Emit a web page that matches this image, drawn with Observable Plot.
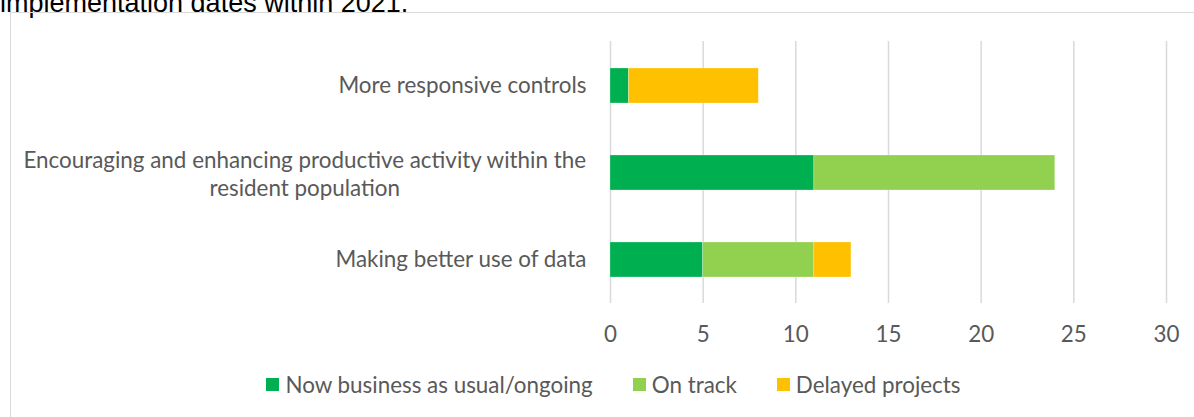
<!DOCTYPE html>
<html>
<head>
<meta charset="utf-8">
<script src="https://cdn.jsdelivr.net/npm/d3@7"></script>
<script src="https://cdn.jsdelivr.net/npm/@observablehq/plot@0.6"></script>
<style>
  html, body { margin: 0; padding: 0; background: #fff; }
  #page { position: relative; width: 1194px; height: 417px; overflow: hidden; background: #fff; }
  #title { position: absolute; left: 0; top: -10px; font-family: "Liberation Sans", Arial, sans-serif; font-size: 27px; line-height: 27px; color: #000; white-space: nowrap; }
  #frame { position: absolute; left: 10px; top: 12px; width: 1220px; height: 440px; border: 1.5px solid #d9d9d9; box-sizing: border-box; }
  #chart { position: absolute; left: 0; top: 0; }
  #legend { position: absolute; left: 0; top: 371px; width: 1227px; display: flex; justify-content: center; font-family: Lato, sans-serif; font-size: 22.4px; color: #595959; }
  .item { display: flex; align-items: center; margin: 0 20px; white-space: nowrap; }
  .sw { width: 13px; height: 13px; margin-right: 6px; }
</style>
</head>
<body>
<div id="page">
  <div id="title">implementation dates within 2021.</div>
  <div id="frame"></div>
  <div id="chart"></div>
  <div id="legend"></div>
</div>
<script>
const categories = [
  "More responsive controls",
  "Encouraging and enhancing productive activity within the\nresident population",
  "Making better use of data"
];
const series = ["Now business as usual/ongoing", "On track", "Delayed projects"];
const businessAsUsual = [1, 11, 5];
const onTrack = [0, 13, 6];
const delayed = [7, 0, 2];
const xTicks = [0, 5, 10, 15, 20, 25, 30];
const colors = ["#00B050", "#92D050", "#FFC000"];

const seriesValues = [businessAsUsual, onTrack, delayed];
const data = [];
categories.forEach((c, i) => {
  series.forEach((s, j) => {
    data.push({category: c, series: s, value: seriesValues[j][i]});
  });
});

const FS = 22.4;
const ctx = document.createElement("canvas").getContext("2d");
ctx.font = FS + "px Lato";
const labelPad = 24;
const single = categories.filter(c => !c.includes("\n"));
const multi = categories.filter(c => c.includes("\n"));
const firstLineWidth = multi.length ? ctx.measureText(multi[0].split("\n")[0]).width : 0;

const chart = Plot.plot({
  width: 1194,
  height: 360,
  marginLeft: 610,
  marginRight: 28,
  marginTop: 41,
  marginBottom: 57,
  style: {fontFamily: "Lato, sans-serif", fontSize: FS + "px", color: "#595959", background: "transparent", overflow: "visible"},
  x: {domain: [0, 30], ticks: xTicks, label: null},
  y: {domain: categories, paddingInner: 0.6, paddingOuter: 0.3, axis: null},
  color: {domain: series, range: colors},
  marks: [
    Plot.ruleX(xTicks, {stroke: "#d9d9d9", strokeWidth: 1.5}),
    Plot.barX(data, {x: "value", y: "category", fill: "series", order: series, stroke: "white", strokeOpacity: 0.5, strokeWidth: 0.5}),
    Plot.axisX({ticks: xTicks, tickSize: 0, tickPadding: 23, fontSize: FS, fill: "#595959", label: null}),
    Plot.text(single, {y: d => d, text: d => d, frameAnchor: "left", textAnchor: "end", dx: -labelPad, fill: "#595959", fontSize: FS}),
    Plot.text(multi, {y: d => d, text: d => d, frameAnchor: "left", textAnchor: "middle", lineHeight: 1.25, dx: -labelPad - firstLineWidth / 2, fill: "#595959", fontSize: FS})
  ]
});
document.getElementById("chart").appendChild(chart);

const legend = document.getElementById("legend");
series.forEach((s, j) => {
  const item = document.createElement("div");
  item.className = "item";
  const sw = document.createElement("span");
  sw.className = "sw";
  sw.style.background = colors[j];
  const t = document.createElement("span");
  t.textContent = s;
  item.appendChild(sw);
  item.appendChild(t);
  legend.appendChild(item);
});
</script>
</body>
</html>
